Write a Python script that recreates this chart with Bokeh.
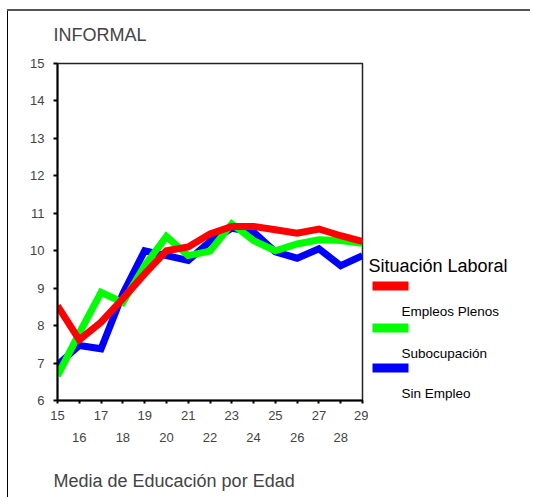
from bokeh.plotting import figure
from bokeh.models import Range1d, FixedTicker, LinearAxis, Title
from bokeh.layouts import row
from bokeh.core.properties import value
from bokeh.embed import file_html
from bokeh.resources import INLINE

# ---- data ----
edad = list(range(15, 30))
empleos_plenos = [8.53, 7.62, 8.09, 8.72, 9.38, 10.0, 10.1, 10.45, 10.65, 10.65, 10.56, 10.47, 10.58, 10.4, 10.25]
subocupacion = [6.66, 7.8, 8.89, 8.62, 9.6, 10.38, 9.87, 9.99, 10.72, 10.27, 10.0, 10.18, 10.29, 10.27, 10.2]
sin_empleo = [6.95, 7.47, 7.38, 8.85, 10.0, 9.87, 9.74, 10.25, 10.6, 10.5, 9.97, 9.8, 10.05, 9.6, 9.87]
y_ticks = list(range(6, 16))
series_names = ["Empleos Plenos", "Subocupación", "Sin Empleo"]
series_colors = ["#FF0000", "#00FF00", "#0000FF"]
titulo = "INFORMAL"
eje_x = "Media de Educación por Edad"
leyenda_titulo = "Situación Laboral"

FONT = "Liberation Sans"
H = 497
TOP, BOTTOM = 63, 97

p = figure(width=368, height=H, output_backend="svg", toolbar_location=None,
           x_range=Range1d(15, 29), y_range=Range1d(6, 15),
           min_border_left=57, min_border_top=TOP, min_border_right=6, min_border_bottom=BOTTOM)
p.background_fill_color = "white"
p.border_fill_alpha = 0
p.outline_line_color = "#222"
p.outline_line_width = 1.5
p.xgrid.visible = False
p.ygrid.visible = False

# title
p.title.text = titulo
p.title.text_font = FONT
p.title.text_font_size = "18px"
p.title.text_font_style = "normal"
p.title.align = "left"
p.title.offset = -4
p.title.standoff = 37

# series (blue, green, red order so red ends on top)
for vals, col in [(sin_empleo, series_colors[2]), (subocupacion, series_colors[1]),
                  (empleos_plenos, series_colors[0])]:
    p.line(edad, vals, line_color=col, line_width=7, line_join="miter")

# y axis
ya = p.yaxis[0]
ya.ticker = FixedTicker(ticks=y_ticks)
ya.axis_line_width = 2
ya.major_tick_line_width = 2
ya.major_tick_out = 4
ya.major_tick_in = 0
ya.minor_tick_line_color = None
ya.major_label_standoff = 9
ya.major_label_text_font = FONT
ya.major_label_text_font_size = "13px"

# x axis: odd labels on first row, even on second
xa = p.xaxis[0]
xa.ticker = FixedTicker(ticks=edad)
xa.major_label_overrides = {v: ("" if v % 2 == 0 else str(v)) for v in edad}
xa.axis_line_width = 2
xa.major_tick_line_width = 2
xa.major_tick_out = 3
xa.major_tick_in = 0
xa.minor_tick_line_color = None
xa.major_label_standoff = 7
xa.major_label_text_font = FONT
xa.major_label_text_font_size = "13px"

xa2 = LinearAxis(ticker=FixedTicker(ticks=[v for v in edad if v % 2 == 0]))
xa2.axis_line_color = None
xa2.major_tick_line_color = None
xa2.major_tick_out = 0
xa2.major_tick_in = 0
xa2.minor_tick_line_color = None
xa2.major_label_standoff = 10
xa2.major_label_text_font = FONT
xa2.major_label_text_font_size = "13px"
p.add_layout(xa2, "below")

# invisible spacer axis to leave room above the caption
spacer = LinearAxis(ticker=FixedTicker(ticks=[edad[0]]), axis_line_color=None,
                    major_label_overrides={edad[0]: ""},
                    major_tick_line_color="white", minor_tick_line_color=None,
                    major_tick_out=22, major_tick_in=0, major_label_standoff=0)
p.add_layout(spacer, "below")

# x caption below
cap = Title(text=eje_x, align="left", offset=-4, standoff=4,
            text_font=FONT, text_font_size="18px", text_font_style="normal")
p.add_layout(cap, "below")

# ---- legend panel (swatch above its label, as in the original) ----
# its frame is aligned with the main frame, so the y range is given in page pixels
LW = 162
lg = figure(width=LW, height=H, output_backend="svg", toolbar_location=None,
            x_range=Range1d(0, LW), y_range=Range1d(H - BOTTOM, TOP),
            min_border_left=0, min_border_right=0, min_border_top=TOP, min_border_bottom=BOTTOM,
            outline_line_color=None)
lg.axis.visible = False
lg.grid.visible = False
lg.background_fill_alpha = 0
lg.border_fill_alpha = 0

sw_top = [281, 323, 363]
lg.quad(left=[4] * 3, right=[40] * 3, top=sw_top, bottom=[t + 9 for t in sw_top],
        fill_color=series_colors, line_color=None)
lg.text(x=[33] * 3, y=[t + 30 for t in sw_top], text=series_names,
        text_font=value(FONT), text_font_size=value("13.5px"), text_baseline="alphabetic",
        text_color="black")
lg.text(x=[0], y=[265], text=[leyenda_titulo],
        text_font=value(FONT), text_font_size=value("18px"), text_baseline="alphabetic",
        text_color="black")

layout = row(p, lg, spacing=0, styles={
    "background-color": "white",
    "background-image": "linear-gradient(#555, #555), linear-gradient(#000, #000)",
    "background-size": "100% 2px, 1px 100%",
    "background-position": "7px 9px, 7px 9px",
    "background-repeat": "no-repeat",
})

open("out.html", "w").write(file_html(layout, INLINE))
